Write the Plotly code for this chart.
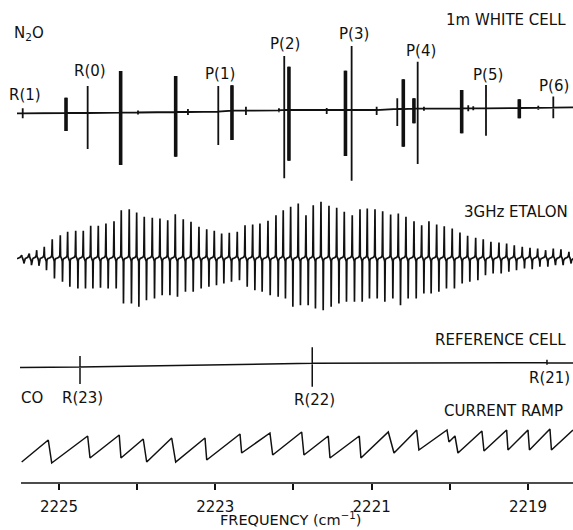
import plotly.graph_objects as go

# ---------------- DATA ----------------
# N2O spectrum, 1 m White cell (line centre, cm-1; upward / downward excursion; baseline drift; thick = doublet)
n2o_freq = [2225.464, 2224.910, 2224.633, 2224.211, 2223.989, 2223.507, 2223.350, 2222.962, 2222.787,
            2222.608, 2222.186, 2222.118, 2222.058, 2221.575, 2221.335, 2221.256, 2220.936, 2220.672,
            2220.595, 2220.459, 2220.411, 2220.331, 2219.848, 2219.764, 2219.700, 2219.537, 2219.111,
            2218.868, 2218.676]
n2o_up = [5, 15.3, 27, 41.7, 2, 36, 3, 25.7, 25.4, 4, 2, 54, 43.3, 2, 39.3, 64, 3.3, 10.7, 29.7, 10.4,
          47, 2, 18.3, 3, 2, 23.3, 8.7, 2, 11]
n2o_down = [5, 18, 36, 52.3, 2, 44.7, 3, 33.3, 29.3, 4.3, 2, 68.3, 50.7, 4, 46, 70.7, 5, 17, 37.7, 14.6,
            55.3, 2, 25, 3, 2, 27.4, 10.3, 2, 10.7]
n2o_base = [0, 0.3, 0.3, 0.6, 0.8, 1.3, 1.3, 1.6, 2.6, 2.6, 3, 3.3, 3.3, 3.3, 3.3, 3.3, 3.3, 4.3, 4.3,
            4.6, 4.6, 4.6, 5, 5, 5, 5, 5.3, 5.5, 5.7]
n2o_thick = [0, 1, 0, 1, 0, 1, 0, 0, 1, 0, 0, 0, 1, 0, 1, 0, 0, 0, 1, 1, 0, 0, 1, 0, 0, 0, 1, 0, 0]
n2o_labels = ["R(1)", "", "R(0)", "", "", "", "", "P(1)", "", "", "", "P(2)", "", "", "", "P(3)", "", "",
              "", "", "P(4)", "", "", "", "", "P(5)", "", "", "P(6)"]

# 3 GHz etalon fringes
etalon_freq = [2225.477, 2225.380, 2225.285, 2225.188, 2225.086, 2224.983, 2224.889, 2224.786, 2224.689,
               2224.594, 2224.497, 2224.399, 2224.296, 2224.203, 2224.101, 2224.006, 2223.909, 2223.806,
               2223.708, 2223.609, 2223.512, 2223.410, 2223.311, 2223.209, 2223.110, 2223.013, 2222.919,
               2222.821, 2222.719, 2222.620, 2222.522, 2222.429, 2222.326, 2222.224, 2222.131, 2222.036,
               2221.939, 2221.840, 2221.747, 2221.648, 2221.546, 2221.447, 2221.350, 2221.248, 2221.149,
               2221.056, 2220.957, 2220.859, 2220.757, 2220.659, 2220.561, 2220.458, 2220.360, 2220.267,
               2220.168, 2220.071, 2219.969, 2219.870, 2219.772, 2219.669, 2219.572, 2219.474, 2219.371,
               2219.273, 2219.175, 2219.073, 2218.974, 2218.876, 2218.774, 2218.676, 2218.578, 2218.476]
etalon_up = [3.3, 5, 8.3, 11.7, 19.3, 23.3, 26.7, 27.7, 27.7, 32.7, 32.7, 35, 37.3, 48.3, 49.3, 46, 41.7,
             40.7, 40, 38.3, 44.3, 39.3, 36.7, 31.7, 29.3, 27.7, 25, 25.7, 26.7, 33.3, 34, 35, 37.7, 43.3,
             48.3, 51.7, 55, 43.3, 53.3, 56.7, 52.7, 50.7, 46.7, 43.3, 49.3, 50, 49.3, 47.3, 44, 45, 41.7,
             37.3, 33.3, 37.3, 34, 32.3, 30, 26, 22.7, 20.7, 19.3, 16.7, 16, 15, 13.3, 11.7, 10.7, 10, 8.3,
             10, 9.3, 6.7]
etalon_down = [5, 6.7, 7.3, 11.7, 20, 23.3, 28.3, 30, 30, 30, 29.3, 30, 30, 45, 45, 48.3, 41.7, 40, 36.7,
               36.7, 38.3, 33.3, 33.3, 30, 28.3, 26.7, 25, 23.3, 21.7, 28.3, 31.7, 33.3, 36.7, 38.3, 40,
               48.3, 46.7, 46.7, 50, 51.7, 48.3, 45, 43.3, 43.3, 43.3, 40, 40, 43.3, 40, 46.7, 40, 40, 35,
               35, 33.3, 30, 30, 25, 23.3, 21.7, 16.7, 15, 15, 13.3, 11.7, 10, 10.7, 8.3, 8.3, 6.7, 6.7, 5]

# CO reference cell
ref_freq = [2224.731, 2221.760, 2218.757]
ref_up = [11, 16, 3]
ref_down = [17, 23.4, 2]
ref_base = [0.5, 4.2, 4.8]
ref_labels = ["R(23)", "R(22)", "R(21)"]

# Laser current ramp (turning points)
ramp_freq = [2225.477, 2225.137, 2225.093, 2224.633, 2224.603, 2224.229, 2224.207, 2223.922, 2223.878,
             2223.558, 2223.507, 2223.132, 2223.110, 2222.684, 2222.663, 2222.301, 2222.266, 2221.895,
             2221.866, 2221.555, 2221.533, 2221.158, 2221.137, 2220.787, 2220.714, 2220.424, 2220.395,
             2220.036, 2220.011, 2219.934, 2219.896, 2219.589, 2219.563, 2219.273, 2219.256, 2219.000,
             2218.981, 2218.719, 2218.700, 2218.424]
ramp_level = [1, 23, 0, 27, 5, 28, 5, 24, 1, 25, 1, 25, 3, 29, 10, 30, 8, 31, 8, 27, 5, 27, 5, 31, 10,
              33, 13, 33, 21, 27, 10, 32, 12, 33, 13, 33, 13, 34, 13, 33]

tick_vals = [2225, 2223, 2221, 2219]
tick_text = ["2225", "2223", "2221", "2219"]

# ---------------- LAYOUT CONSTANTS ----------------
W, H = 573, 530
ML, MB = 17, 47
PW, PH = W - ML, H - MB
F_LEFT, F_RIGHT = 2225.537, 2218.424
PX = (F_LEFT - F_RIGHT) / PW          # cm-1 per pixel
N2O_OFF, ETA_OFF, REF_OFF, RAMP_OFF = 369.7, 224.5, 115.5, 20
BLACK = "#111111"
FONT = "DejaVu Sans"


def paper(x, y):
    return (x - ML) / PW, (PH - y) / PH


# ---------------- TRACES ----------------
fig = go.Figure()

# N2O
xs, ys = [F_LEFT], [N2O_OFF]
tx, ty = [], []
for f, u, d, b, t in zip(n2o_freq, n2o_up, n2o_down, n2o_base, n2o_thick):
    base = N2O_OFF + b
    xs += [f, f, f, f]
    ys += [base, base + u, base - d, base]
    if t:
        tx += [f, f, None]
        ty += [base + u, base - d, None]
xs.append(F_RIGHT)
ys.append(N2O_OFF + 6)
fig.add_trace(go.Scatter(x=xs, y=ys, mode="lines", line=dict(color=BLACK, width=1.8), hoverinfo="skip"))
fig.add_trace(go.Scatter(x=tx, y=ty, mode="lines", line=dict(color=BLACK, width=3.6), hoverinfo="skip"))

# Etalon
shape = [(-4, 0, 0), (-1.5, 0, 1.2), (-0.5, 0, 3), (0, 1, 0), (0.3, 0, 2), (1.3, 0, 0),
         (2.0, 0, -3), (2.2, -1, 0), (2.6, 0, -2), (3.5, 0, 0)]
ex, ey = [F_LEFT + 0.03], [ETA_OFF]
for f, u, d in zip(etalon_freq, etalon_up, etalon_down):
    for dx, k, c in shape:
        ex.append(f - dx * PX)
        ey.append(ETA_OFF + (u if k == 1 else (-d if k == -1 else c)))
ex.append(F_RIGHT)
ey.append(ETA_OFF)
fig.add_trace(go.Scatter(x=ex, y=ey, mode="lines", line=dict(color=BLACK, width=1.7), hoverinfo="skip"))

# Reference cell
rx, ry = [F_LEFT - 3 * PX], [REF_OFF]
for f, u, d, b in zip(ref_freq, ref_up, ref_down, ref_base):
    base = REF_OFF + b
    rx += [f, f, f, f]
    ry += [base, base + u, base - d, base]
rx.append(F_RIGHT)
ry.append(REF_OFF + 4.5)
fig.add_trace(go.Scatter(x=rx, y=ry, mode="lines", line=dict(color=BLACK, width=1.5), hoverinfo="skip"))

# Current ramp
fig.add_trace(go.Scatter(x=ramp_freq, y=[RAMP_OFF + v for v in ramp_level], mode="lines",
                         line=dict(color=BLACK, width=1.5), hoverinfo="skip"))

# ---------------- TEXT ----------------
texts = [
    ("N<sub>2</sub>O", 12, 34, "left", 15),
    ("1m WHITE CELL", 568, 20, "right", 15),
    ("3GHz ETALON", 570, 212, "right", 15),
    ("REFERENCE CELL", 568, 340, "right", 15),
    ("CO", 19, 398, "left", 15),
    ("CURRENT RAMP", 565, 411, "right", 15),
    ("FREQUENCY (cm<sup>−1</sup>)", 290, 519, "center", 14.5),
]
label_pos = {"R(1)": (25, 95), "R(0)": (89.5, 71), "P(1)": (219.5, 74), "P(2)": (285, 44),
             "P(3)": (353.5, 34), "P(4)": (420.5, 51), "P(5)": (487.5, 75), "P(6)": (554, 86),
             "R(23)": (82.5, 398), "R(22)": (314, 400), "R(21)": (549, 378)}
for lab in [l for l in n2o_labels if l] + ref_labels:
    x, y = label_pos[lab]
    texts.append((lab, x, y, "center", 15))

for t, x, y, anc, sz in texts:
    px_, py_ = paper(x, y)
    fig.add_annotation(text=t, x=px_, y=py_, xref="paper", yref="paper", xanchor=anc, yanchor="middle",
                       showarrow=False, font=dict(family=FONT, size=sz, color=BLACK))

# axis base line (starts slightly right of the traces, as in the original)
x0, _ = paper(21, 0)
fig.add_shape(type="line", xref="paper", yref="paper", x0=x0, x1=1, y0=0, y1=0,
              line=dict(color=BLACK, width=1.6))

fig.update_layout(
    width=W, height=H,
    margin=dict(l=ML, r=0, t=0, b=MB),
    paper_bgcolor="white", plot_bgcolor="white",
    showlegend=False,
    font=dict(family=FONT, size=15, color=BLACK),
    xaxis=dict(range=[F_LEFT, F_RIGHT], showgrid=False, zeroline=False, showline=False,
               ticks="outside", ticklen=6, tickwidth=1.6,
               tickcolor=BLACK, tickvals=tick_vals, ticktext=tick_text, ticklabelstandoff=4,
               tickfont=dict(family=FONT, size=15, color=BLACK),
               minor=dict(ticks="outside", ticklen=6, tickwidth=1.6, tickcolor=BLACK,
                          tick0=2219, dtick=1, showgrid=False)),
    yaxis=dict(range=[0, PH], visible=False, showgrid=False, zeroline=False),
)

fig.write_html("out.html", config={"displayModeBar": False},
               post_script="document.body.style.margin='0';document.body.style.overflow='hidden';")
